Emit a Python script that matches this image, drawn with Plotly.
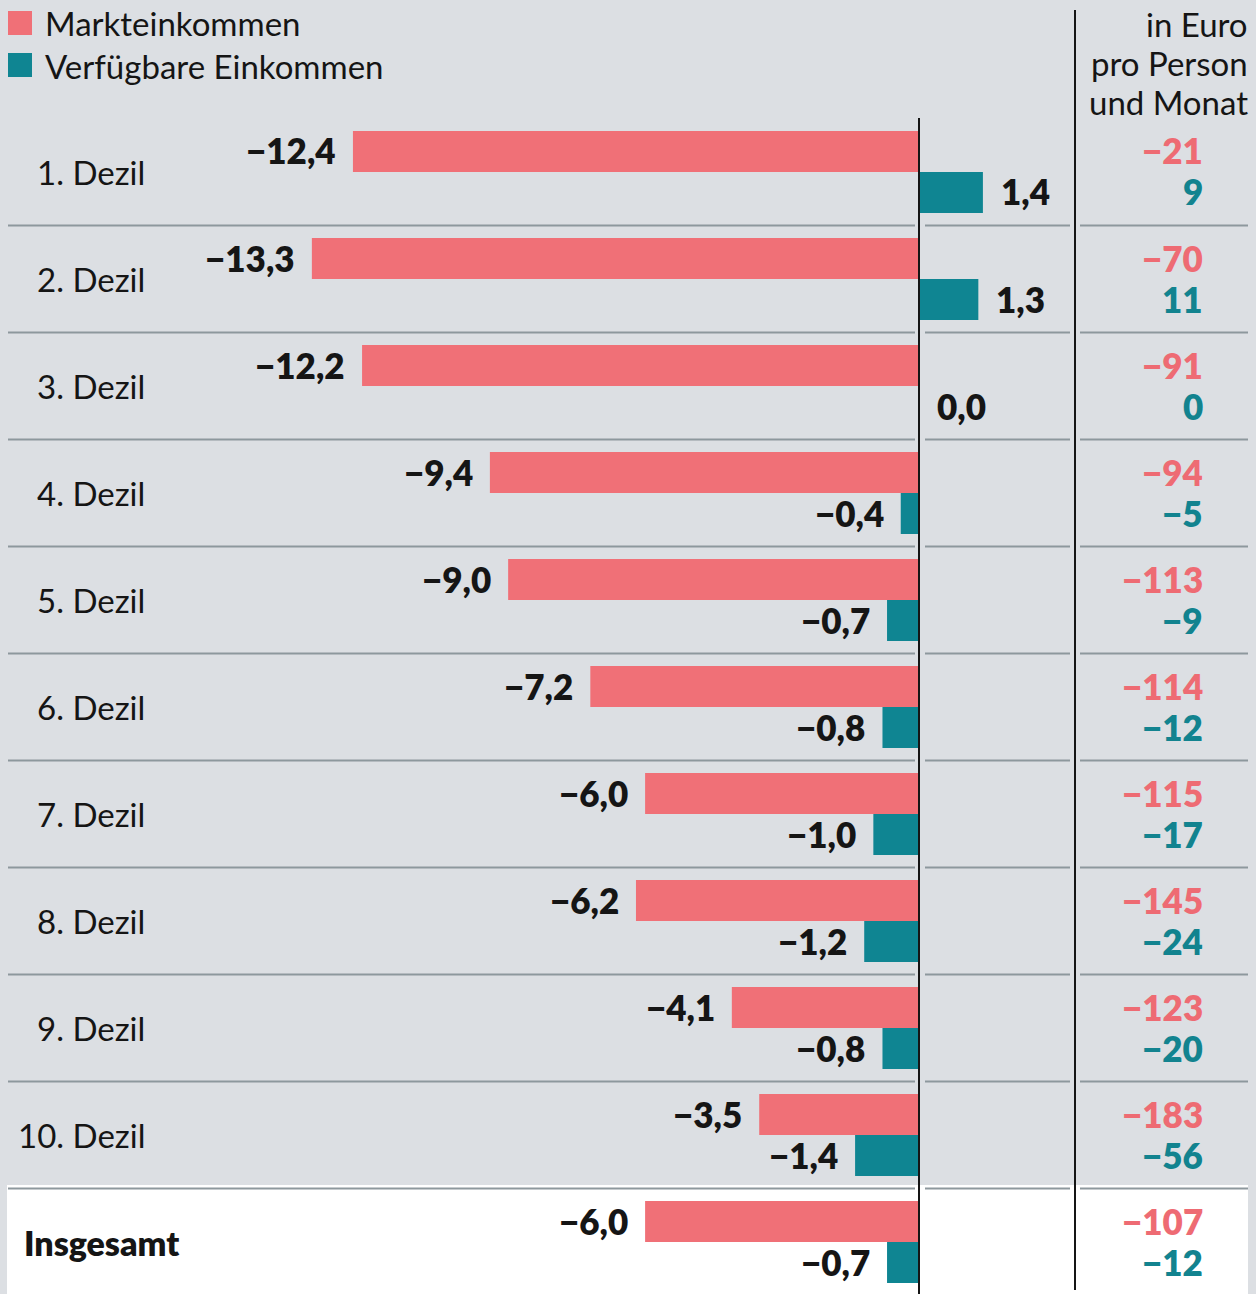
import plotly.graph_objects as go

categories = ["1. Dezil", "2. Dezil", "3. Dezil", "4. Dezil", "5. Dezil", "6. Dezil",
              "7. Dezil", "8. Dezil", "9. Dezil", "10. Dezil", "Insgesamt"]
markt = [-12.4, -13.3, -12.2, -9.4, -9.0, -7.2, -6.0, -6.2, -4.1, -3.5, -6.0]
verf = [1.4, 1.3, 0.0, -0.4, -0.7, -0.8, -1.0, -1.2, -0.8, -1.4, -0.7]
euro_markt = [-21, -70, -91, -94, -113, -114, -115, -145, -123, -183, -107]
euro_verf = [9, 11, 0, -5, -9, -12, -17, -24, -20, -56, -12]
header_lines = ["in Euro", "pro Person", "und Monat"]

W, H = 1256, 1294
PINK = "#f07077"
TEAL = "#0f8592"
PINK_T = "#ee6b73"
TEAL_T = "#12838f"
BG = "#dcdfe3"
DARK = "#151515"
GRID = "#8d989d"
FONT = "Lato"
FS = 33
FSB = 35
BW = 800

def px(x):
    return x / W

def py(y):
    return 1 - y / H

def fmt(v, dec=1):
    s = f"{abs(v):.{dec}f}".replace(".", ",")
    return ("\u2212" + s) if v < 0 else s

zero_px = 919
ppu = 45.65
x_range = [-zero_px / ppu, (W - zero_px) / ppu]
band = 107.0
top_px = 118.5
y_range = [-0.5 + (H - top_px) / band, -0.5]

fig = go.Figure()
fig.add_trace(go.Bar(y=categories, x=markt, orientation="h", marker=dict(color=PINK, line=dict(width=0)),
                     name="Markteinkommen", showlegend=False, hoverinfo="skip"))
fig.add_trace(go.Bar(y=categories, x=verf, orientation="h", marker=dict(color=TEAL, line=dict(width=0)),
                     name="Verfügbare Einkommen", showlegend=False, hoverinfo="skip"))

shapes = []
# white total row
shapes.append(dict(type="rect", xref="paper", yref="paper", x0=px(7), x1=px(1248), y0=py(1185), y1=py(1300),
                   fillcolor="white", line=dict(width=0), layer="below"))
# separators between rows
for i in range(len(categories) - 1):
    yv = i + 0.5
    for a, b in [(8, 915), (925, 1070), (1080, 1248)]:
        shapes.append(dict(type="line", xref="paper", yref="y", x0=px(a), x1=px(b), y0=yv, y1=yv,
                           line=dict(color=GRID, width=2), layer="below"))
# zero line
shapes.append(dict(type="line", xref="paper", yref="paper", x0=px(zero_px), x1=px(zero_px), y0=py(118), y1=py(1300),
                   line=dict(color=DARK, width=2), layer="above"))
# right column separator
shapes.append(dict(type="line", xref="paper", yref="paper", x0=px(1075), x1=px(1075), y0=py(10), y1=py(1290),
                   line=dict(color=DARK, width=2), layer="above"))
# legend squares
shapes.append(dict(type="rect", xref="paper", yref="paper", x0=px(8), x1=px(32), y0=py(11), y1=py(35),
                   fillcolor=PINK, line=dict(width=0)))
shapes.append(dict(type="rect", xref="paper", yref="paper", x0=px(8), x1=px(32), y0=py(53), y1=py(77),
                   fillcolor=TEAL, line=dict(width=0)))

ann = []
ann.append(dict(text="Markteinkommen", xref="paper", yref="paper", x=px(43), y=py(23), xanchor="left",
                yanchor="middle", showarrow=False, font=dict(family=FONT, size=FS, color=DARK)))
ann.append(dict(text="Verfügbare Einkommen", xref="paper", yref="paper", x=px(43), y=py(66), xanchor="left",
                yanchor="middle", showarrow=False, font=dict(family=FONT, size=FS, color=DARK)))
for line, ypx in zip(header_lines, [24, 63, 102]):
    ann.append(dict(text=line, xref="paper", yref="paper", x=px(1250), y=py(ypx),
                    xanchor="right", yanchor="middle", showarrow=False,
                    font=dict(family=FONT, size=FS, color=DARK)))

for i, c in enumerate(categories):
    if c == "Insgesamt":
        ann.append(dict(text=c, xref="paper", yref="y", x=px(22), y=c, xanchor="left",
                        yanchor="middle", showarrow=False,
                        font=dict(family=FONT, size=FSB - 1, color=DARK, weight=BW)))
    else:
        ann.append(dict(text=c, xref="paper", yref="y", x=px(147), y=c, xanchor="right",
                        yanchor="middle", showarrow=False, font=dict(family=FONT, size=FS, color=DARK)))
    for val, shift in [(markt[i], 21.5), (verf[i], -19.5)]:
        if val < 0:
            ann.append(dict(text=fmt(val), xref="x", yref="y", x=val, y=c, xanchor="right",
                            xshift=-15, yshift=shift, yanchor="middle", showarrow=False,
                            font=dict(family=FONT, size=FSB, color=DARK, weight=BW)))
        else:
            ann.append(dict(text=fmt(val), xref="x", yref="y", x=val, y=c, xanchor="left",
                            xshift=16, yshift=shift, yanchor="middle", showarrow=False,
                            font=dict(family=FONT, size=FSB, color=DARK, weight=BW)))
    ann.append(dict(text=fmt(euro_markt[i], 0), xref="paper", yref="y", x=px(1205), y=c,
                    xanchor="right", yshift=21.5, yanchor="middle", showarrow=False,
                    font=dict(family=FONT, size=FSB, color=PINK_T, weight=BW)))
    ann.append(dict(text=fmt(euro_verf[i], 0), xref="paper", yref="y", x=px(1205), y=c,
                    xanchor="right", yshift=-19.5, yanchor="middle", showarrow=False,
                    font=dict(family=FONT, size=FSB, color=TEAL_T, weight=BW)))

fig.update_layout(
    width=W, height=H,
    margin=dict(l=0, r=0, t=0, b=0),
    paper_bgcolor=BG, plot_bgcolor="rgba(0,0,0,0)",
    barmode="group", bargap=0.234, bargroupgap=0,
    xaxis=dict(range=x_range, visible=False, fixedrange=True),
    yaxis=dict(range=y_range, domain=[0, 1 - top_px / H], visible=False, type="category",
               categoryorder="array", categoryarray=categories, fixedrange=True),
    shapes=shapes, annotations=ann,
    font=dict(family=FONT, color=DARK),
)

fig.write_html("out.html", config={"displayModeBar": False})
